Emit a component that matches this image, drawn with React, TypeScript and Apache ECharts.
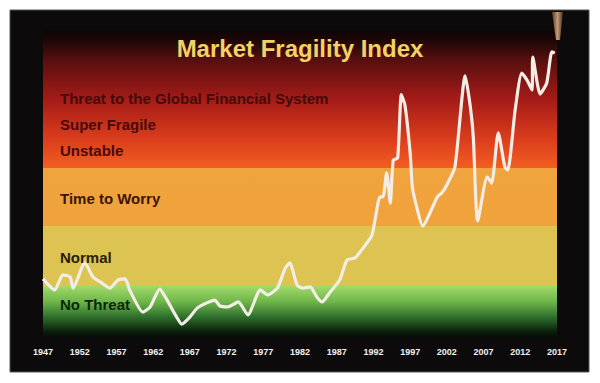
import React, { useEffect, useRef } from "react";
import * as echarts from "echarts";

const years = [1947.0, 1948.6, 1949.7, 1950.7, 1951.1, 1952.7, 1953.8, 1954.8, 1956.1, 1957.2, 1958.2, 1958.8, 1960.6, 1961.6, 1962.9, 1963.9, 1965.2, 1965.9, 1967.0, 1968.0, 1969.3, 1970.4, 1971.1, 1972.2, 1973.6, 1974.9, 1976.6, 1977.6, 1978.9, 1980.0, 1980.6, 1981.6, 1982.4, 1983.4, 1984.3, 1985.0, 1986.1, 1987.4, 1988.4, 1989.5, 1990.4, 1991.8, 1992.9, 1993.3, 1993.8, 1994.3, 1994.7, 1995.3, 1995.8, 1996.3, 1997.0, 1997.3, 1997.9, 1998.7, 2000.7, 2001.3, 2002.0, 2003.1, 2004.5, 2005.2, 2005.6, 2006.2, 2007.5, 2008.1, 2009.0, 2009.9, 2010.3, 2011.3, 2012.2, 2012.9, 2013.6, 2013.7, 2014.7, 2015.6, 2016.3, 2016.7];
const fragility = [19.2, 15.6, 20.5, 19.8, 16.2, 24.4, 19.8, 18.2, 16.2, 18.8, 19.2, 15.6, 8.4, 10.1, 15.9, 12.3, 6.8, 4.5, 6.8, 9.7, 11.4, 12.3, 10.4, 10.1, 11.7, 7.5, 15.6, 14.0, 16.2, 22.7, 24.4, 17.2, 16.2, 16.6, 13.3, 11.7, 14.9, 18.8, 25.3, 26.0, 28.6, 33.4, 45.8, 45.8, 53.6, 43.8, 57.8, 58.4, 79.0, 75.5, 60.1, 49.0, 42.5, 36.4, 45.8, 47.1, 49.7, 55.5, 85.1, 75.0, 65.3, 38.0, 52.3, 50.3, 66.6, 55.5, 54.5, 74.0, 86.0, 83.8, 80.5, 91.2, 79.2, 82.8, 92.9, 92.5];

const bandBounds = [0, 16.9, 36.4, 55.2, 100];
const bandLabels = ["No Threat", "Normal", "Time to Worry", "Unstable", "Super Fragile", "Threat to the Global Financial System"];
const tickYears = { min: 1947, max: 2017, step: 5 };
const titleText = "Market Fragility Index";

export default function App() {
  const ref = useRef<HTMLDivElement>(null);
  useEffect(() => {
    if (!ref.current) return;
    const chart = echarts.init(ref.current, null, { renderer: "svg" });
    const grad = (stops: [number, string][]) =>
      new echarts.graphic.LinearGradient(0, 0, 0, 1, stops.map(([offset, color]) => ({ offset, color })));
    const bandFills = [
      grad([[0, "#a3da6c"], [0.3, "#6fb64a"], [0.62, "#2a6a2a"], [0.88, "#0b1e0b"], [1, "#070a07"]]),
      grad([[0, "#dcc352"], [1, "#dcc352"]]),
      grad([[0, "#f0a43e"], [1, "#f0a23c"]]),
      grad([[0, "#0e0505"], [0.07, "#1c0707"], [0.22, "#580f0f"], [0.51, "#a61c18"], [0.8, "#dc3e1c"], [1, "#f25e22"]]),
    ];
    const labelPos = [
      { t: bandLabels[5], y: 98, c: "#440b0b" },
      { t: bandLabels[4], y: 124, c: "#440b0b" },
      { t: bandLabels[3], y: 150, c: "#440b0b" },
      { t: bandLabels[2], y: 198, c: "#3a1406" },
      { t: bandLabels[1], y: 257, c: "#262008" },
      { t: bandLabels[0], y: 304, c: "#0b260b" },
    ];
    chart.setOption({
      animation: false,
      backgroundColor: "#ffffff",
      grid: { left: 43, right: 43, top: 30, bottom: 45 },
      xAxis: {
        type: "value",
        min: tickYears.min,
        max: tickYears.max,
        interval: tickYears.step,
        axisLine: { show: false },
        axisTick: { show: false },
        splitLine: { show: false },
        axisLabel: {
          color: "#f2f2f2",
          fontFamily: "Liberation Sans",
          fontWeight: "bold",
          fontSize: 9,
          margin: 9,
          showMinLabel: true,
          showMaxLabel: true,
          formatter: (v: number) => String(v),
        },
      },
      yAxis: { type: "value", min: 0, max: 100, show: false, splitLine: { show: false } },
      graphic: [
        {
          type: "rect",
          z: -10,
          shape: { x: 10, y: 10, width: 579, height: 362 },
          style: { fill: "#0c0a0a", stroke: "#555555", lineWidth: 1 },
        },
        {
          type: "polygon",
          z: 50,
          shape: { points: [[552, 12], [563, 12], [560, 40], [556, 40]] },
          style: {
            fill: new echarts.graphic.LinearGradient(0, 0, 1, 0, [
              { offset: 0, color: "#5a3a22" },
              { offset: 0.5, color: "#c49a78" },
              { offset: 1, color: "#4a2e1a" },
            ]),
          },
        },
        {
          type: "text",
          z: 100,
          x: 300,
          y: 48,
          style: {
            text: titleText,
            fill: "#f2d264",
            font: "bold 24px 'Liberation Sans'",
            textAlign: "center",
            textVerticalAlign: "middle",
          },
        },
        ...labelPos.map((l) => ({
          type: "text",
          z: 100,
          x: 60,
          y: l.y,
          style: {
            text: l.t,
            fill: l.c,
            font: "bold 15px 'Liberation Sans'",
            textAlign: "left",
            textVerticalAlign: "middle",
          },
        })),
      ],
      series: [
        {
          type: "line",
          data: years.map((y, i) => [y, fragility[i]]),
          smooth: 0.2,
          showSymbol: false,
          lineStyle: { color: "#f3ede5", width: 3.2 },
          z: 5,
          markArea: {
            silent: true,
            z: 1,
            data: bandFills.map((fill, i) => [
              { yAxis: bandBounds[i], itemStyle: { color: fill } },
              { yAxis: bandBounds[i + 1] },
            ]),
          },
        },
      ],
    });
    return () => chart.dispose();
  }, []);
  return <div ref={ref} style={{ position: "absolute", left: 0, top: 0, width: 600, height: 383 }} />;
}
